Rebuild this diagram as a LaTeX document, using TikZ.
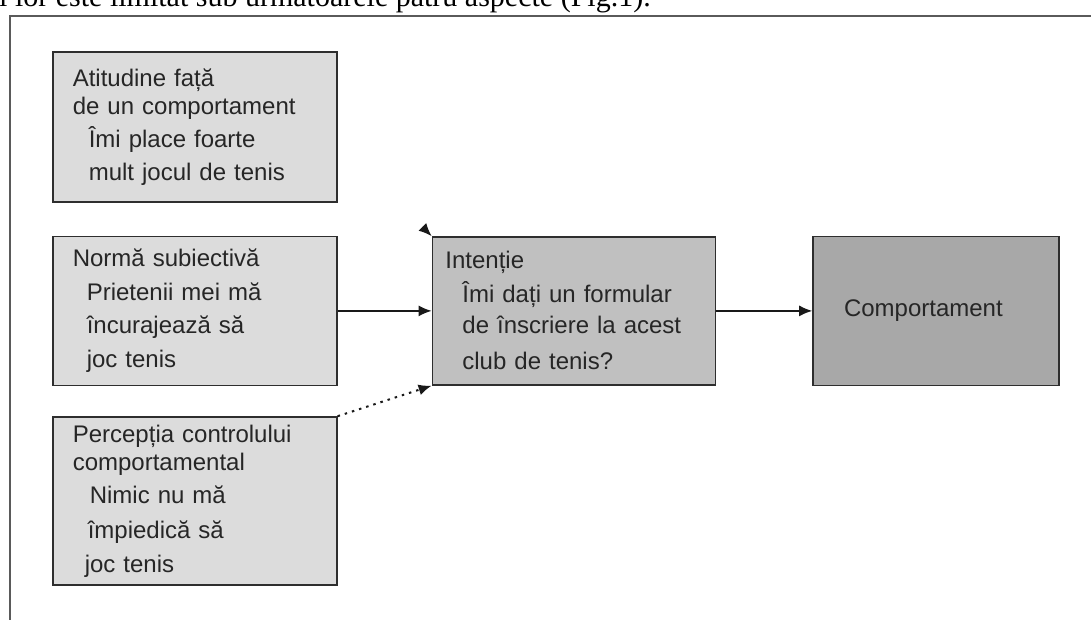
\documentclass[tikz,border=0pt]{standalone}
\usepackage{fontspec}
\setmainfont{Liberation Sans}
\newfontfamily\headfont{Liberation Serif}
\usepackage{xcolor}
\usetikzlibrary{shapes,arrows,arrows.meta,positioning,fit,calc}
\definecolor{boxlight}{HTML}{DCDCDC}
\definecolor{boxmid}{HTML}{C0C0C0}
\definecolor{boxdark}{HTML}{A8A8A8}
\definecolor{framegray}{HTML}{5A5A5A}
\definecolor{edgegray}{HTML}{2E2E2E}

\begin{document}
\begin{tikzpicture}[
    x=1pt, y=1pt,
    factor/.style={rectangle, draw=edgegray, line width=1.6pt, fill=boxlight, text=black!85, text width=244pt, inner xsep=20pt, inner ysep=0pt, align=left, font=\fontsize{24}{28}\selectfont},
    intentbox/.style={factor, fill=boxmid, text width=257pt, inner xsep=13pt, minimum height=148pt},
    behavbox/.style={factor, fill=boxdark, text width=184pt, inner xsep=31pt, minimum height=149pt},
    arrow/.style={-{Latex[length=13pt,width=11pt]}, line width=1.5pt, draw=black!90}
]
    \useasboundingbox (0,0) rectangle (1091,619);

    % Frame and cut-off caption
    \node[font=\headfont\fontsize{30}{34}\selectfont, anchor=base west, inner sep=0pt] (caption) at (-1,612) {i lor este limitat sub urmatoarele patru aspecte (Fig.1).};
    \draw[framegray, line width=2.5pt] (10,-30) -- (10,603) -- (1120,603);

    % Factors
    \node[factor, minimum height=150pt, anchor=north west] (attitude) at (52,568) {Atitudine față\\de un comportament\\[5pt]\hspace*{16pt}Îmi place foarte\\[5pt]\hspace*{16pt}mult jocul de tenis};
    \node[factor, minimum height=149pt, below=33pt of attitude] (norm) {Normă subiectivă\\[6pt]\hspace*{14pt}Prietenii mei mă\\[5pt]\hspace*{14pt}încurajează să\\[6pt]\hspace*{14pt}joc tenis};
    \node[factor, minimum height=168pt, below=30pt of norm] (control) {Percepția controlului\\comportamental\\[5pt]\hspace*{17pt}Nimic nu mă\\[7pt]\hspace*{15pt}împiedică să\\[6pt]\hspace*{12pt}joc tenis};

    % Intention and behaviour
    \node[intentbox, right=94pt of norm] (intention) {Intenție\\[6pt]\hspace*{17pt}Îmi dați un formular\\[3pt]\hspace*{17pt}de înscriere la acest\\[8pt]\hspace*{17pt}club de tenis?};
    \node[behavbox, right=96pt of intention] (behaviour) {Comportament};

    % Arrows
    \coordinate (attin) at ($(intention.north west)+(-9,9)$);
    \draw[arrow] (attin) -- (intention.north west);
    \draw[arrow] (norm) -- (intention);
    \draw[arrow, line width=2pt, dash pattern=on 2.5pt off 5pt] (control.north east) -- (intention.south west);
    \draw[arrow] (intention) -- (behaviour);

\end{tikzpicture}
\end{document}
